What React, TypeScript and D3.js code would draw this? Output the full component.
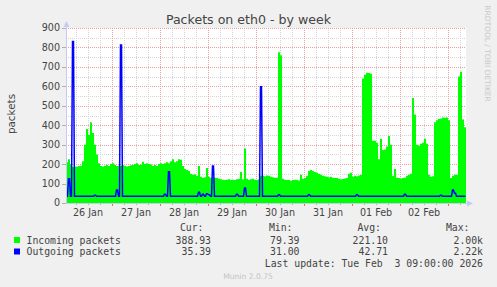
import React from "react";
import * as d3 from "d3";

// ---- data (hourly samples starting Mon 26 Jan 2026 01:00 UTC) ----
const startTime = Date.UTC(2026, 0, 26, 1);
const endTime = Date.UTC(2026, 1, 3, 9);

const incoming = [
  210, 225, 200, 185, 188, 186, 190, 192, 215, 300, 380, 350, 415, 360, 300, 250, 205, 190, 188, 192,
  195, 190, 200, 205, 195, 190, 192, 190, 196, 192, 188, 190, 194, 196, 200, 205, 195, 198, 212, 200,
  205, 200, 198, 192, 195, 190, 200, 205, 200, 205, 210, 205, 215, 225, 210, 215, 225, 222, 190, 175,
  170, 165, 150, 145, 148, 140, 190, 135, 130, 132, 180, 135, 130, 132, 130, 128, 125, 122, 120, 118,
  120, 122, 118, 120, 118, 122, 125, 160, 122, 280, 125, 120, 122, 125, 120, 118, 122, 140, 140, 138,
  142, 140, 135, 132, 130, 130, 775, 760, 125, 120, 118, 118, 115, 118, 120, 118, 116, 145, 125, 128,
  140, 165, 170, 165, 160, 155, 150, 145, 140, 138, 135, 132, 135, 130, 128, 128, 125, 122, 124, 126,
  128, 150, 155, 135, 140, 138, 142, 145, 640, 660, 670, 668, 665, 320, 320, 310, 225, 330, 272, 275,
  290, 345, 300, 140, 175, 130, 128, 126, 128, 130, 140, 145, 150, 540, 455, 300, 295, 305, 310, 330,
  305, 145, 135, 138, 415, 425, 432, 435, 440, 438, 440, 425, 128, 140, 145, 145, 650, 675, 430, 389,
];

const outgoing = [
  35, 125, 35, 830, 35, 35, 35, 35, 35, 35, 35, 35, 35, 35, 40, 35, 35, 35, 35, 35,
  35, 35, 35, 35, 35, 67, 35, 813, 35, 35, 35, 35, 35, 35, 35, 35, 35, 35, 35, 35,
  35, 35, 35, 35, 35, 35, 35, 35, 35, 45, 35, 161, 35, 35, 35, 35, 35, 35, 35, 35,
  35, 35, 35, 35, 35, 35, 55, 35, 45, 35, 48, 42, 35, 190, 35, 35, 35, 35, 35, 35,
  35, 35, 35, 35, 35, 45, 35, 35, 35, 77, 35, 35, 35, 35, 35, 35, 35, 598, 35, 35,
  35, 35, 35, 35, 35, 35, 42, 35, 35, 35, 35, 35, 35, 35, 35, 35, 35, 35, 35, 35,
  35, 42, 35, 35, 35, 35, 35, 35, 35, 35, 35, 35, 35, 35, 35, 35, 35, 35, 35, 35,
  35, 35, 35, 35, 35, 42, 35, 35, 35, 35, 35, 35, 35, 35, 35, 35, 35, 35, 35, 35,
  35, 35, 35, 35, 35, 35, 35, 35, 35, 45, 35, 35, 35, 35, 35, 35, 35, 35, 35, 35,
  35, 35, 35, 35, 35, 35, 35, 40, 35, 35, 35, 35, 35, 67, 50, 35, 35, 35, 35, 35,
];

const yTicks = [0, 100, 200, 300, 400, 500, 600, 700, 800, 900];
const seriesNames = ["Incoming packets", "Outgoing packets"];
const seriesColors = ["#00ff00", "#0000ff"];
const curValues = ["388.93", "35.39"];
const minValues = ["79.39", "31.00"];
const avgValues = ["221.10", "42.71"];
const maxValues = ["2.00k", "2.22k"];
const lastUpdate = "Last update: Tue Feb  3 09:00:00 2026";

const W = 497;
const H = 287;
const plot = { left: 66, right: 466, top: 28, bottom: 203 };

type Pt = { x: number; v: number };

export default function App() {
  const x = d3.scaleUtc().domain([startTime, endTime]).range([plot.left, plot.right]);
  const y = d3.scaleLinear().domain([0, 900]).range([plot.bottom, plot.top]);
  const HOUR = 3600 * 1000;

  const areaPts = (arr: number[]): Pt[] => {
    const pts = arr.map((v, i) => ({ x: x(startTime + i * HOUR), v }));
    pts.push({ x: x(endTime), v: arr[arr.length - 1] });
    return pts;
  };
  // each hourly sample occupies its two pixel columns
  const linePts = (arr: number[]): Pt[] => {
    const pts: Pt[] = [];
    arr.forEach((v, i) => {
      const x0 = x(startTime + i * HOUR);
      const x1 = x(startTime + (i + 1) * HOUR);
      pts.push({ x: x0 + 0.5, v });
      pts.push({ x: x1 - 0.5, v });
    });
    return pts;
  };

  const area = d3
    .area<Pt>()
    .x((d) => d.x)
    .y0(y(0))
    .y1((d) => y(d.v))
    .curve(d3.curveStepAfter);
  const line = d3
    .line<Pt>()
    .x((d) => d.x)
    .y((d) => y(d.v))
    .curve(d3.curveLinear);

  const sixHours = d3.utcHour.every(6)!.range(new Date(startTime), new Date(endTime + 1));
  const days = d3.utcDay.range(new Date(startTime), new Date(endTime + 1));
  const labelDays = d3.utcDay
    .range(new Date(startTime - 24 * HOUR), new Date(endTime))
    .map((d) => new Date(d.getTime() + 12 * HOUR))
    .filter((d) => d.getTime() >= startTime && d.getTime() <= endTime);
  const fmt = d3.utcFormat("%d %b");

  const minorY = d3.range(50, 901, 50).filter((v) => v % 100 !== 0);
  const crisp = (v: number) => Math.round(v) + 0.5;

  const textColor = "#444";
  const sans = "'DejaVu Sans', sans-serif";
  const mono = "'DejaVu Sans Mono', monospace";
  const axisColor = "#c8c8f4";

  const rowY = [243.5, 255];

  return (
    <svg
      width={W}
      height={H}
      style={{ position: "absolute", left: 0, top: 0, display: "block" }}
      xmlns="http://www.w3.org/2000/svg"
    >
      <rect x={0} y={0} width={W} height={H} fill="#f0f0f0" />
      <rect x={plot.left} y={plot.top} width={plot.right - plot.left} height={plot.bottom - plot.top} fill="#ffffff" />

      {/* grid */}
      <g shapeRendering="crispEdges" strokeWidth={1}>
        {minorY.map((v) => (
          <line key={"my" + v} x1={plot.left} x2={plot.right} y1={crisp(y(v))} y2={crisp(y(v))} stroke="#d4d4d4" strokeDasharray="1,1" />
        ))}
        {sixHours.map((d) => (
          <line key={"mx" + d.getTime()} x1={crisp(x(d))} x2={crisp(x(d))} y1={plot.top} y2={plot.bottom} stroke="#d4d4d4" strokeDasharray="1,1" />
        ))}
        {yTicks.filter((v) => v > 0).map((v) => (
          <line key={"My" + v} x1={plot.left} x2={plot.right} y1={crisp(y(v))} y2={crisp(y(v))} stroke="#eba0a0" strokeDasharray="1,1" />
        ))}
        {days.map((d) => (
          <line key={"Mx" + d.getTime()} x1={crisp(x(d))} x2={crisp(x(d))} y1={plot.top} y2={plot.bottom} stroke="#eba0a0" strokeDasharray="1,1" />
        ))}
      </g>

      {/* data */}
      <path d={area(areaPts(incoming)) || ""} fill={seriesColors[0]} />
      <path
        d={line(linePts(outgoing)) || ""}
        fill="none"
        stroke={seriesColors[1]}
        strokeWidth={1.5}
        strokeLinejoin="miter"
        strokeMiterlimit={2}
      />

      {/* ticks */}
      <g shapeRendering="crispEdges">
        {yTicks.map((v) => (
          <line key={"ty" + v} x1={62} x2={66} y1={crisp(y(v))} y2={crisp(y(v))} stroke="#b0b0b0" />
        ))}
        {sixHours.map((d) => (
          <line key={"tx" + d.getTime()} x1={crisp(x(d))} x2={crisp(x(d))} y1={203} y2={205} stroke="#b0b0b0" />
        ))}
        {days.map((d) => (
          <line key={"tX" + d.getTime()} x1={crisp(x(d))} x2={crisp(x(d))} y1={203} y2={206} stroke="#e07070" />
        ))}
        {/* axes */}
        <line x1={plot.left + 0.5} x2={plot.left + 0.5} y1={plot.bottom + 1} y2={plot.top - 4} stroke={axisColor} />
        <line x1={plot.left} x2={plot.right + 3} y1={plot.bottom + 0.5} y2={plot.bottom + 0.5} stroke={axisColor} />
      </g>
      <path d={`M${plot.left + 0.5},${plot.top - 7} L${plot.left - 2.5},${plot.top - 1} L${plot.left + 3.5},${plot.top - 1} Z`} fill={axisColor} />
      <path d={`M${plot.right + 7},${plot.bottom + 0.5} L${plot.right + 1},${plot.bottom - 2.5} L${plot.right + 1},${plot.bottom + 3.5} Z`} fill={axisColor} />

      {/* tick labels */}
      <g fontFamily={sans} fontSize={9.6} fill={textColor}>
        {yTicks.map((v) => (
          <text key={"ly" + v} x={60} y={y(v)} dy="0.36em" textAnchor="end">
            {v}
          </text>
        ))}
        {labelDays.map((d) => (
          <text key={"lx" + d.getTime()} x={x(d)} y={216} textAnchor="middle">
            {fmt(d)}
          </text>
        ))}
      </g>

      {/* title & labels */}
      <text x={248.5} y={24} textAnchor="middle" fontFamily={sans} fontSize={12.6} fill="#444">
        Packets on eth0 - by week
      </text>
      <text
        transform="translate(15,114) rotate(-90)"
        textAnchor="middle"
        fontFamily={sans}
        fontSize={10.4}
        fill={textColor}
      >
        packets
      </text>
      <text
        transform="translate(484.5,53.5) rotate(90)"
        textAnchor="middle"
        fontFamily={sans}
        fontSize={7.5}
        fill="#c8c8c8"
      >
        RRDTOOL / TOBI OETIKER
      </text>

      {/* legend */}
      <g fontFamily={mono} fontSize={9.8} fill={textColor} style={{ whiteSpace: "pre" }}>
        <text x={203.5} y={231} textAnchor="end">Cur:</text>
        <text x={292.5} y={231} textAnchor="end">Min:</text>
        <text x={381} y={231} textAnchor="end">Avg:</text>
        <text x={469.5} y={231} textAnchor="end">Max:</text>
        {seriesNames.map((name, i) => (
          <g key={name}>
            <rect x={14} y={rowY[i] - 6.5} width={6} height={6} fill={seriesColors[i]} />
            <text x={26.5} y={rowY[i]}>{name}</text>
            <text x={211} y={rowY[i]} textAnchor="end">{curValues[i]}</text>
            <text x={299.5} y={rowY[i]} textAnchor="end">{minValues[i]}</text>
            <text x={388} y={rowY[i]} textAnchor="end">{avgValues[i]}</text>
            <text x={483} y={rowY[i]} textAnchor="end">{maxValues[i]}</text>
          </g>
        ))}
        <text x={483} y={267} textAnchor="end" xmlSpace="preserve">{lastUpdate}</text>
      </g>
      <text x={248} y={279} textAnchor="middle" fontFamily={sans} fontSize={7.6} fill="#c4c4c4">
        Munin 2.0.75
      </text>
    </svg>
  );
}
